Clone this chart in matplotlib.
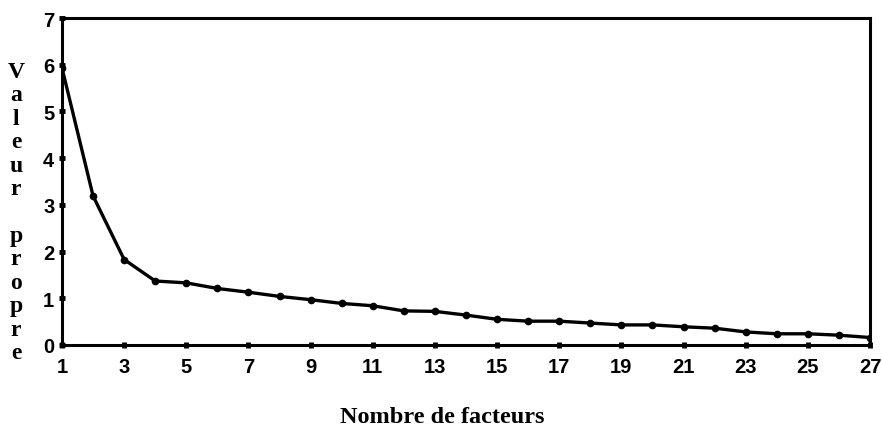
import matplotlib
matplotlib.use("Agg")
import matplotlib.pyplot as plt

factors = list(range(1, 28))
eigenvalues = [5.93, 3.19, 1.83, 1.37, 1.33, 1.21, 1.13, 1.04, 0.97, 0.89,
               0.84, 0.73, 0.72, 0.64, 0.55, 0.51, 0.51, 0.47, 0.43, 0.43,
               0.39, 0.36, 0.28, 0.24, 0.24, 0.21, 0.16]
xticks = list(range(1, 28, 2))
yticks = list(range(0, 8))
xlabel = "Nombre de facteurs"
ylabel = "Valeur propre"

fig = plt.figure(figsize=(8.82, 4.27), dpi=100)
W, H = 882, 427
ax = fig.add_axes([62 / W, 1 - 346 / H, (870 - 62) / W, (346 - 19) / H])

ax.plot(factors, eigenvalues, color="black", lw=2.4, marker="o", ms=4.5,
        solid_joinstyle="round")
ax.set_xlim(1, 27)
ax.set_ylim(0, 7)
ax.set_xticks(xticks)
ax.set_yticks(yticks)
for s in ax.spines.values():
    s.set_linewidth(2.2)
ax.tick_params(axis="both", direction="inout", length=5, width=3.5, color="black",
               labelsize=14.5)
ax.tick_params(axis="x", pad=6)
ax.tick_params(axis="y", pad=3)
for lab in ax.get_xticklabels() + ax.get_yticklabels():
    lab.set_fontfamily("Liberation Sans")
    lab.set_fontweight("bold")

# stacked vertical y label
fig.text(16 / W, 1 - 213 / H, "\n".join(ylabel),
         ha="center", va="center", family="Liberation Serif", weight="bold",
         fontsize=17, linespacing=1.155)

fig.text(442 / W, 1 - 418 / H, xlabel, ha="center", va="center",
         family="Liberation Serif", weight="bold", fontsize=17.5)

fig.savefig("out.png", dpi=100)
